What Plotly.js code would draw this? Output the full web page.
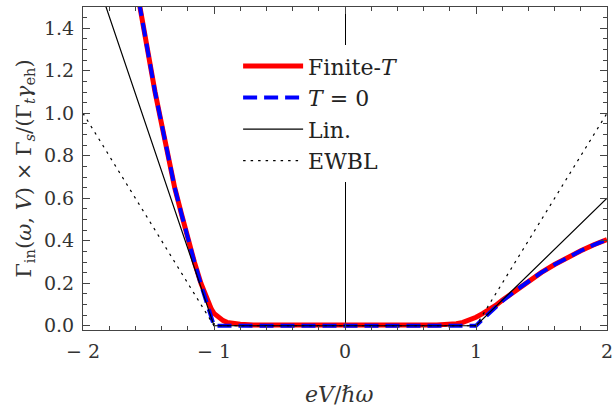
<!DOCTYPE html>
<html>
<head>
<meta charset="utf-8">
<script src="https://cdn.plot.ly/plotly-3.0.1.min.js"></script>
<style>html,body{margin:0;padding:0;background:#fff;}</style>
</head>
<body>
<div id="chart" style="width:612px;height:416px;"></div>
<script>
// T = 0 curve
const xT0 = [-1.60, -1.55, -1.50, -1.45, -1.40, -1.35, -1.30, -1.25, -1.20, -1.15, -1.10, -1.05, -1.00,
             0.00, 1.00, 1.05, 1.10, 1.15, 1.20, 1.30, 1.40, 1.50, 1.60, 1.70, 1.80, 1.90, 2.00];
const yT0 = [1.62, 1.44, 1.27, 1.10, 0.95, 0.80, 0.65, 0.53, 0.41, 0.30, 0.195, 0.095, 0.0,
             0.0, 0.0, 0.03, 0.06, 0.088, 0.115, 0.165, 0.21, 0.251, 0.288, 0.322, 0.353, 0.381, 0.406];
// Finite-T curve
const xFT = [-1.60, -1.55, -1.50, -1.45, -1.40, -1.35, -1.30, -1.25, -1.20, -1.15, -1.10, -1.05, -1.02, -1.00, -0.97, -0.93, -0.90, -0.85, -0.80, -0.70, -0.50,
             0.00, 0.50, 0.70, 0.80, 0.85, 0.90, 0.95, 1.00, 1.05, 1.10, 1.15, 1.20, 1.30, 1.40, 1.50, 1.60, 1.70, 1.80, 1.90, 2.00];
const yFT = [1.62, 1.44, 1.27, 1.10, 0.95, 0.80, 0.65, 0.53, 0.41, 0.30, 0.20, 0.115, 0.078, 0.058, 0.040, 0.024, 0.016, 0.010, 0.007, 0.004, 0.003,
             0.003, 0.003, 0.004, 0.007, 0.010, 0.016, 0.026, 0.040, 0.057, 0.074, 0.096, 0.12, 0.166, 0.21, 0.251, 0.288, 0.322, 0.353, 0.381, 0.406];
// Linear approximation
const xLin = [-2, -1, 1, 2];
const yLin = [1.82, 0, 0, 0.6];
// EWBL
const xEW = [-2, -1, 1, 2];
const yEW = [1.0, 0, 0, 1.0];

const xTicks = [-2, -1, 0, 1, 2];
const xTickText = ['\u2212 2', '\u2212 1', '0', '1', '2'];
const yTicks = [0, 0.2, 0.4, 0.6, 0.8, 1.0, 1.2, 1.4];
const xTitle = '<i>eV</i>/<i>ℏω</i>';
const yTitle = 'Γ<sub>in</sub>(<i>ω</i>, <i>V</i>) × Γ<sub><i>s</i></sub>/(Γ<sub><i>t</i></sub><i>γ</i><sub>eh</sub>)';

const serif = 'DejaVu Serif';

const traces = [
  {x: xFT, y: yFT, mode: 'lines', name: 'Finite-<i>T</i>', line: {color: '#ff0000', width: 5}},
  {x: xT0, y: yT0, mode: 'lines', name: '<i>T</i> = 0', line: {color: '#0000ff', width: 4, dash: '14px,7px'}},
  {x: xLin, y: yLin, mode: 'lines', name: 'Lin.', line: {color: '#000', width: 1.2}},
  {x: xEW, y: yEW, mode: 'lines', name: 'EWBL', line: {color: '#000', width: 1.2, dash: '2.5px,5px'}}
];

const axisCommon = {
  showline: true, linecolor: '#444', linewidth: 1, mirror: 'allticks',
  ticks: 'inside', ticklen: 7, tickcolor: '#444', tickwidth: 1,
  showgrid: false, automargin: false, ticklabeloverflow: 'allow',
  ticklabelstandoff: 4,
  tickfont: {family: serif, size: 19, color: '#333'}
};

const layout = {
  width: 612, height: 416,
  margin: {l: 83, r: 5, t: 7, b: 86},
  paper_bgcolor: '#fff', plot_bgcolor: '#fff',
  font: {family: serif},
  showlegend: true,
  legend: {
    x: 0.296, y: 0.882, xanchor: 'left', yanchor: 'top',
    bgcolor: '#fff', borderwidth: 0,
    font: {family: serif, size: 22, color: '#222'},
    itemwidth: 60, tracegroupgap: 0
  },
  xaxis: Object.assign({}, axisCommon, {
    range: [-2, 2], tickvals: xTicks, ticktext: xTickText,
    zeroline: true, zerolinecolor: '#000', zerolinewidth: 1,
    minor: {dtick: 0.2, tick0: 0, ticklen: 4, tickcolor: '#444', ticks: 'inside'}
  }),
  yaxis: Object.assign({}, axisCommon, {
    range: [-0.02, 1.5], tickvals: yTicks, tickformat: '.1f',
    zeroline: false,
    minor: {dtick: 0.05, tick0: 0, ticklen: 4, tickcolor: '#444', ticks: 'inside'},
    title: {text: yTitle, font: {family: serif, size: 21, color: '#333'}}
  }),
  annotations: [
    {text: xTitle, xref: 'paper', yref: 'paper', x: 0.49, y: -0.2, xanchor: 'center', yanchor: 'middle',
     showarrow: false, font: {family: serif, size: 22, color: '#333'}}
  ]
};

Plotly.newPlot('chart', traces, layout, {staticPlot: true, displayModeBar: false});
</script>
</body>
</html>
